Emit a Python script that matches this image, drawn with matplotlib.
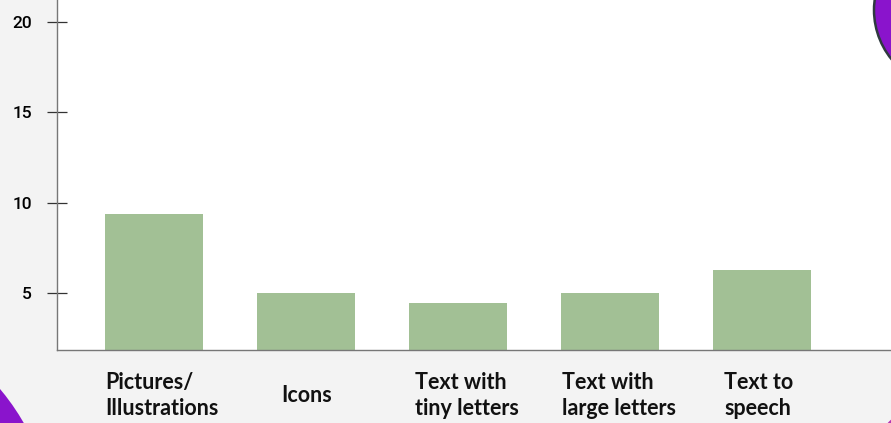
import matplotlib
matplotlib.use("Agg")
import matplotlib.pyplot as plt
from matplotlib.patches import Circle

categories = ["Pictures/\nIllustrations", "Icons", "Text with\ntiny letters",
              "Text with\nlarge letters", "Text to\nspeech"]
values = [9.35, 5.0, 4.45, 5.0, 6.3]
yticks = [5, 10, 15, 20]

bg = "#f3f3f3"
bar_color = "#a2c095"
purple = "#8a14cc"

fig = plt.figure(figsize=(8.91, 4.23), dpi=100, facecolor=bg)

# decoration layer in pixel coords
deco = fig.add_axes([0, 0, 1, 1], zorder=0)
deco.set_xlim(0, 891)
deco.set_ylim(423, 0)
deco.axis("off")
deco.add_patch(Circle((-180, 540), 235, color=purple, lw=0))
deco.add_patch(Circle((960, 492), 100, color="#b535b5", lw=0))

ax = fig.add_axes([57 / 891, 73 / 423, 1 - 57 / 891, 350 / 423], zorder=1)
ax.set_facecolor("white")
x = range(len(values))
ax.bar(x, values, width=0.645, color=bar_color, zorder=2)
ax.set_xlim(-0.64, 4.85)
ax.set_ylim(1.85, 21.22)

for s in ["top", "right"]:
    ax.spines[s].set_visible(False)
for s in ["left", "bottom"]:
    ax.spines[s].set_color("#777777")
    ax.spines[s].set_linewidth(1)

ax.set_yticks(yticks)
ax.set_yticklabels([str(t) for t in yticks], fontfamily="Roboto",
                   fontweight="medium", fontsize=12.5)
ax.tick_params(axis="y", direction="inout", length=14, width=0.9,
               color="#333333", pad=11)
ax.set_xticks([])

# small horizontal nudges (in bar units) so labels sit as in the original
nudge = [0.05, 0.0, 0.06, 0.06, -0.02]
for i, lab in enumerate(categories):
    ax.text(i + nudge[i], -0.063 if "\n" in lab else -0.1, lab,
            transform=ax.get_xaxis_transform(), ha="center", va="top",
            multialignment="left", fontfamily="Lato", fontweight="bold",
            fontsize=15.5, linespacing=1.32, color="#111111")

# top-right circle over the plot
top = fig.add_axes([0, 0, 1, 1], zorder=3)
top.set_xlim(0, 891)
top.set_ylim(423, 0)
top.axis("off")
top.patch.set_alpha(0)
top.add_patch(Circle((952, 10), 78, facecolor=purple, edgecolor="#2f3a40", lw=1.8))

fig.savefig("out.png", dpi=100, facecolor=bg)
